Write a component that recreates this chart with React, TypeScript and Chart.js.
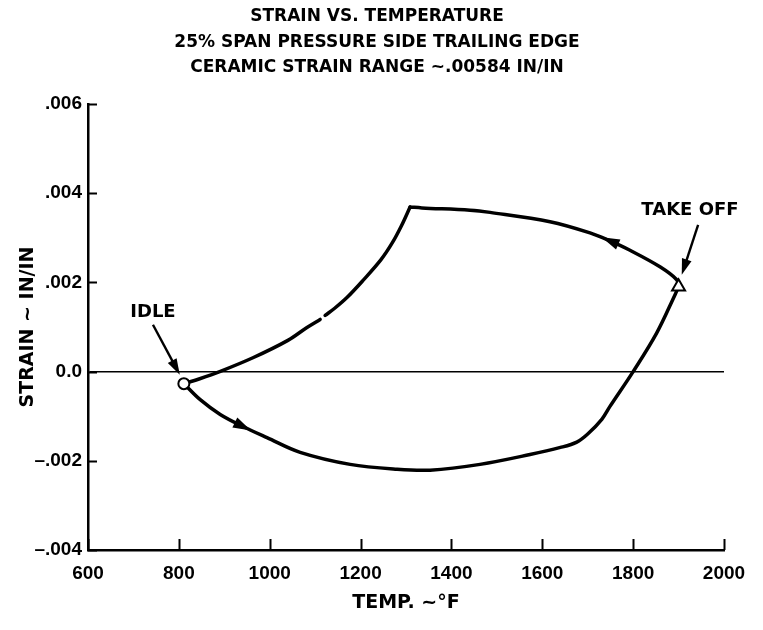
import React, { useEffect, useRef } from 'react';
import { Chart, registerables } from 'chart.js';

Chart.register(...registerables);

// ---------- text ----------
const titleLines = [
  'STRAIN VS. TEMPERATURE',
  '25% SPAN PRESSURE SIDE TRAILING EDGE',
  'CERAMIC STRAIN RANGE ~.00584 IN/IN',
];
const xAxisTitle = 'TEMP. ~°F';
const yAxisTitle = 'STRAIN ~ IN/IN';

// ---------- ticks ----------
const xMin = 600;
const xMax = 2000;
const xStep = 200;
const xTickValues = [600, 800, 1000, 1200, 1400, 1600, 1800, 2000];
const xTickLabels = ['600', '800', '1000', '1200', '1400', '1600', '1800', '2000'];
const yMin = -0.004;
const yMax = 0.006;
const yStep = 0.002;
const yTickValues = [-0.004, -0.002, 0, 0.002, 0.004, 0.006];
const yTickLabels = ['–.004', '–.002', '0.0', '.002', '.004', '.006'];

// ---------- strain loop, in the order it is travelled ----------
// idle -> heating (lower branch) -> take off
const bottomTemps = [811, 847, 891, 941, 994, 1067, 1177, 1280, 1353, 1463, 1573, 1640, 1676, 1700, 1731, 1749, 1800, 1852, 1892, 1900];
const bottomStrains = [
  -0.00027, -0.00063, -0.00096, -0.00123, -0.00148, -0.00181, -0.00208, -0.00219, -0.00221, -0.00208,
  -0.00186, -0.0017, -0.00158, -0.0014, -0.00107, -0.00078, 0.0, 0.00087, 0.00172, 0.0019,
];
// take off -> cooling (upper branch) -> corner
const topTemps = [1900, 1896, 1859, 1793, 1749, 1705, 1617, 1485, 1441, 1335, 1309];
const topStrains = [0.0019, 0.00206, 0.00235, 0.00272, 0.00293, 0.00311, 0.00336, 0.00357, 0.00362, 0.00367, 0.00369];
// corner -> back to idle (small break in the trace near 1116 F)
const returnTemps = [1309, 1290, 1270, 1245, 1205, 1170, 1143, 1122, 1116, 1111, 1082, 1040, 963, 890, 846, 811];
const returnStrains: (number | null)[] = [
  0.00369, 0.00327, 0.00289, 0.00251, 0.00204, 0.00166, 0.00142, 0.00126, null, 0.00117, 0.00099, 0.0007,
  0.00031, 0.0, -0.00016, -0.00027,
];
// direction arrowheads: which branch and which point
const arrowBranches = ['bottom', 'top'];
const arrowIndices = [3, 4];

// ---------- operating points ----------
const markerNames = ['IDLE', 'TAKE OFF'];
const markerTemps = [811, 1900];
const markerStrains = [-0.00027, 0.0019];
const labelTemps = [743, 1925];
const labelStrains = [0.00132, 0.00362];
const pointerFromTemps = [743, 1943];
const pointerFromStrains = [0.00105, 0.00329];
const pointerToTemps = [802, 1907];
const pointerToStrains = [-0.00007, 0.00217];

const FONT = "'DejaVu Sans', 'Liberation Sans', sans-serif";
const TICK_FONT = "'Liberation Sans', Arial, sans-serif";

const branches: Record<string, { t: number[]; s: (number | null)[] }> = {
  bottom: { t: bottomTemps, s: bottomStrains },
  top: { t: topTemps, s: topStrains },
  ret: { t: returnTemps, s: returnStrains },
};

function splitRuns(t: number[], s: (number | null)[]) {
  const runs: { x: number; y: number }[][] = [];
  let cur: { x: number; y: number }[] = [];
  t.forEach((x, i) => {
    const y = s[i];
    if (y === null || y === undefined) {
      if (cur.length) runs.push(cur);
      cur = [];
    } else {
      cur.push({ x, y });
    }
  });
  if (cur.length) runs.push(cur);
  return runs;
}

function drawHead(ctx: CanvasRenderingContext2D, tx: number, ty: number, dx: number, dy: number, len: number, half: number) {
  const n = Math.hypot(dx, dy) || 1;
  const ux = dx / n;
  const uy = dy / n;
  const bx = tx - ux * len;
  const by = ty - uy * len;
  ctx.beginPath();
  ctx.moveTo(tx, ty);
  ctx.lineTo(bx - uy * half, by + ux * half);
  ctx.lineTo(bx + uy * half, by - ux * half);
  ctx.closePath();
  ctx.fill();
}

// page geometry
const PAD_LEFT = 30;
const PAD_RIGHT = 39;
const PLOT_LEFT = 88;

export default function App() {
  const ref = useRef<HTMLCanvasElement>(null);

  useEffect(() => {
    const canvas = ref.current;
    if (!canvas) return;

    const lineSets: any[] = [];
    ['bottom', 'top', 'ret'].forEach((key) => {
      splitRuns(branches[key].t, branches[key].s).forEach((run) => {
        lineSets.push({
          label: 'Strain',
          data: run,
          showLine: true,
          borderColor: '#000',
          backgroundColor: '#000',
          borderWidth: 3.5,
          borderCapStyle: 'round',
          borderJoinStyle: 'round',
          pointRadius: 0,
          tension: 0.35,
          fill: false,
          order: 2,
        });
      });
    });

    const decor = {
      id: 'decor',
      afterDatasetsDraw(chart: any) {
        const ctx: CanvasRenderingContext2D = chart.ctx;
        const xs = chart.scales.x;
        const ys = chart.scales.y;
        const area = chart.chartArea;
        ctx.save();
        ctx.fillStyle = '#000';
        ctx.strokeStyle = '#000';

        // inward tick marks
        ctx.lineWidth = 2;
        ctx.beginPath();
        yTickValues.forEach((v) => {
          const py = Math.round(ys.getPixelForValue(v)) + 0.5;
          ctx.moveTo(area.left, py);
          ctx.lineTo(area.left + 9, py);
        });
        xTickValues.forEach((v) => {
          const px = Math.round(xs.getPixelForValue(v)) + 0.5;
          ctx.moveTo(px, area.bottom);
          ctx.lineTo(px, area.bottom - 11);
        });
        ctx.stroke();

        // direction arrowheads along the loop
        arrowBranches.forEach((key, k) => {
          const b = branches[key];
          const i = arrowIndices[k];
          const px = xs.getPixelForValue(b.t[i]);
          const py = ys.getPixelForValue(b.s[i] as number);
          const ax = xs.getPixelForValue(b.t[i - 1]);
          const ay = ys.getPixelForValue(b.s[i - 1] as number);
          const bx = xs.getPixelForValue(b.t[i + 1]);
          const by = ys.getPixelForValue(b.s[i + 1] as number);
          const dx = bx - ax;
          const dy = by - ay;
          const n = Math.hypot(dx, dy) || 1;
          drawHead(ctx, px + (dx / n) * 9, py + (dy / n) * 9, dx, dy, 18, 5.5);
        });

        // pointer arrows and labels
        ctx.lineWidth = 2.4;
        markerNames.forEach((name, i) => {
          const fx = xs.getPixelForValue(pointerFromTemps[i]);
          const fy = ys.getPixelForValue(pointerFromStrains[i]);
          const tx = xs.getPixelForValue(pointerToTemps[i]);
          const ty = ys.getPixelForValue(pointerToStrains[i]);
          const dx = tx - fx;
          const dy = ty - fy;
          const n = Math.hypot(dx, dy) || 1;
          ctx.beginPath();
          ctx.moveTo(fx, fy);
          ctx.lineTo(tx - (dx / n) * 10, ty - (dy / n) * 10);
          ctx.stroke();
          drawHead(ctx, tx, ty, dx, dy, 16, 5);

          ctx.font = `bold 18px ${FONT}`;
          ctx.textAlign = 'center';
          ctx.textBaseline = 'middle';
          ctx.fillText(name, xs.getPixelForValue(labelTemps[i]), ys.getPixelForValue(labelStrains[i]));
        });
        ctx.restore();
      },
    };

    const chart = new Chart(canvas, {
      type: 'scatter',
      data: {
        datasets: [
          {
            label: markerNames[0],
            data: [{ x: markerTemps[0], y: markerStrains[0] }],
            pointStyle: 'circle',
            pointRadius: 5.5,
            pointBackgroundColor: '#fff',
            pointBorderColor: '#000',
            pointBorderWidth: 2,
            order: 1,
          },
          {
            label: markerNames[1],
            data: [{ x: markerTemps[1], y: markerStrains[1] }],
            pointStyle: 'triangle',
            pointRadius: 7.5,
            pointBackgroundColor: '#fff',
            pointBorderColor: '#000',
            pointBorderWidth: 2,
            order: 1,
          },
          ...lineSets,
        ],
      },
      options: {
        animation: false,
        responsive: true,
        maintainAspectRatio: false,
        layout: { padding: { left: PAD_LEFT, right: PAD_RIGHT, top: 0, bottom: 0 } },
        plugins: {
          legend: { display: false },
          tooltip: { enabled: false },
          title: {
            display: true,
            text: titleLines,
            color: '#000',
            font: { family: FONT, weight: 'bold', size: 17, lineHeight: 1.5 },
            padding: { top: 4.25, bottom: 23.25 },
          },
        },
        scales: {
          x: {
            type: 'linear',
            min: xMin,
            max: xMax,
            afterFit: (s: any) => {
              s.height = 80;
            },
            border: { display: true, color: '#000', width: 2.5 },
            grid: { display: false, drawTicks: false },
            ticks: {
              stepSize: xStep,
              color: '#000',
              padding: 12.6,
              maxRotation: 0,
              autoSkip: false,
              font: { family: TICK_FONT, weight: 'bold', size: 19, lineHeight: 1.2 },
              callback: (v: any) => {
                const i = xTickValues.findIndex((t) => Math.abs(t - Number(v)) < 1e-6);
                return i >= 0 ? xTickLabels[i] : '';
              },
            },
            title: {
              display: true,
              text: xAxisTitle,
              color: '#000',
              font: { family: FONT, weight: 'bold', size: 19, lineHeight: 1.2 },
              padding: { top: 0, bottom: 16 },
            },
          },
          y: {
            type: 'linear',
            min: yMin,
            max: yMax,
            afterFit: (s: any) => {
              s.width = PLOT_LEFT - PAD_LEFT;
            },
            border: { display: true, color: '#000', width: 2.5 },
            grid: {
              display: true,
              drawTicks: false,
              lineWidth: 1.5,
              color: (c: any) => (c.tick && Math.abs(c.tick.value) < 1e-9 ? '#000' : 'rgba(0,0,0,0)'),
            },
            ticks: {
              stepSize: yStep,
              color: '#000',
              padding: 6,
              autoSkip: false,
              font: { family: TICK_FONT, weight: 'bold', size: 19, lineHeight: 1.2 },
              callback: (v: any) => {
                const i = yTickValues.findIndex((t) => Math.abs(t - Number(v)) < 1e-9);
                return i >= 0 ? yTickLabels[i] : '';
              },
            },
            title: {
              display: true,
              text: yAxisTitle,
              color: '#000',
              font: { family: FONT, weight: 'bold', size: 19, lineHeight: 1.2 },
              padding: { top: 28 - PAD_LEFT - 11.4, bottom: 0 },
            },
          },
        },
      },
      plugins: [decor],
    } as any);

    return () => chart.destroy();
  }, []);

  return (
    <div style={{ position: 'absolute', left: 0, top: 0, width: 763, height: 630, background: '#fff' }}>
      <canvas ref={ref} />
    </div>
  );
}
